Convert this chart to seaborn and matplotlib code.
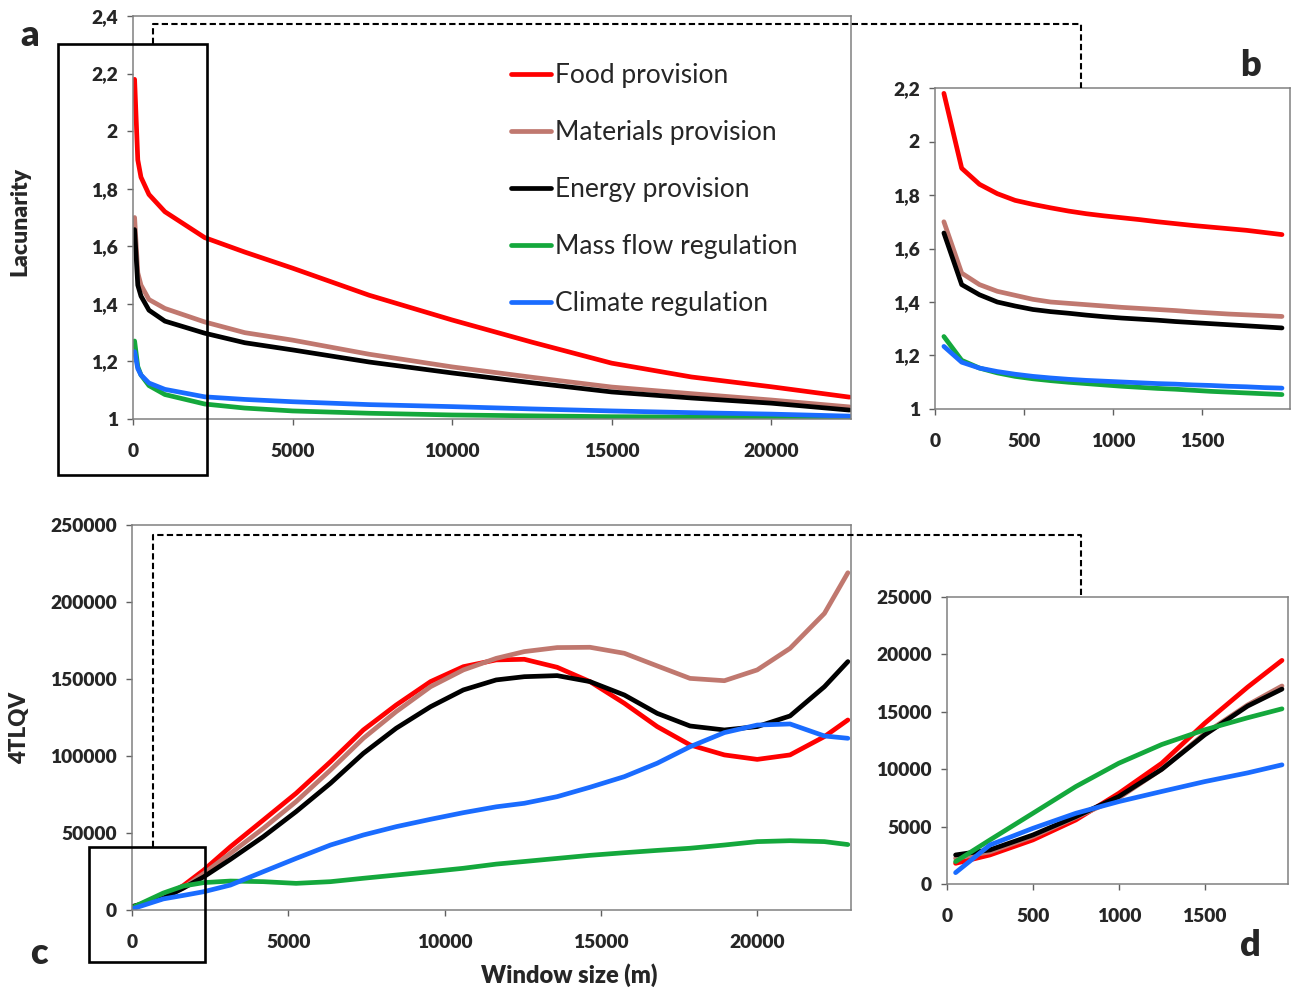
import matplotlib.pyplot as plt
import matplotlib.ticker as mticker
from matplotlib.lines import Line2D
from matplotlib.patches import Rectangle
import seaborn as sns

sns.set_theme(style="ticks")
plt.rcParams["font.family"] = ["Lato", "DejaVu Sans"]
# tick labels and titles are heavy in the original, the legend is not
plt.rcParams["font.weight"] = "heavy"

W, H = 1293, 990

SERIES = ["Food provision", "Materials provision", "Energy provision",
          "Mass flow regulation", "Climate regulation"]
COLORS = ["#ff0000", "#c0786f", "#000000", "#14a83c", "#1a6cff"]

# a - lacunarity, full range
window_a = [50, 150, 250, 500, 1000, 2250, 3500, 5000, 7400, 10000,
            12500, 15000, 17500, 20000, 22450]
lac_food_a = [2.18, 1.90, 1.84, 1.78, 1.72, 1.63, 1.58, 1.524, 1.43, 1.344,
              1.267, 1.194, 1.146, 1.112, 1.076]
lac_mat_a = [1.70, 1.508, 1.465, 1.415, 1.384, 1.337, 1.30, 1.274, 1.225,
             1.181, 1.145, 1.111, 1.088, 1.066, 1.042]
lac_energy_a = [1.658, 1.465, 1.427, 1.378, 1.34, 1.298, 1.265, 1.24, 1.198,
                1.16, 1.126, 1.094, 1.073, 1.055, 1.031]
lac_mass_a = [1.271, 1.182, 1.153, 1.116, 1.085, 1.052, 1.038, 1.028, 1.02,
              1.014, 1.011, 1.008, 1.007, 1.006, 1.005]
lac_climate_a = [1.234, 1.175, 1.153, 1.125, 1.103, 1.077, 1.068, 1.06, 1.05,
                 1.043, 1.035, 1.028, 1.022, 1.017, 1.01]

# b - lacunarity, first 2 km
window_b = [50, 150, 250, 350, 450, 550, 650, 750, 850, 950, 1050, 1150,
            1250, 1350, 1450, 1550, 1650, 1750, 1850, 1950]
lac_food_b = [2.18, 1.90, 1.84, 1.805, 1.78, 1.765, 1.752, 1.74, 1.73, 1.722,
              1.715, 1.708, 1.70, 1.693, 1.686, 1.68, 1.674, 1.668, 1.66, 1.652]
lac_mat_b = [1.70, 1.508, 1.465, 1.44, 1.425, 1.41, 1.40, 1.395, 1.39, 1.385,
             1.38, 1.376, 1.372, 1.368, 1.363, 1.359, 1.355, 1.352, 1.349, 1.346]
lac_energy_b = [1.658, 1.465, 1.427, 1.40, 1.385, 1.372, 1.364, 1.358, 1.351,
                1.345, 1.34, 1.336, 1.332, 1.327, 1.323, 1.319, 1.315, 1.311,
                1.307, 1.303]
lac_mass_b = [1.271, 1.182, 1.153, 1.135, 1.122, 1.113, 1.106, 1.10, 1.095,
              1.09, 1.085, 1.081, 1.077, 1.074, 1.07, 1.066, 1.063, 1.06,
              1.057, 1.054]
lac_climate_b = [1.234, 1.175, 1.153, 1.14, 1.13, 1.122, 1.116, 1.111, 1.107,
                 1.104, 1.101, 1.098, 1.095, 1.093, 1.09, 1.088, 1.085, 1.083,
                 1.08, 1.078]

# c - 4TLQV, full range
window_c = [50, 1000, 1650, 2300, 3150, 4200, 5250, 6350, 7400, 8450, 9550,
            10600, 11650, 12550, 13600, 14650, 15750, 16800, 17850, 18950,
            20000, 21050, 22150, 22900]
tlqv_food_c = [1800, 8000, 16000, 26000, 41100, 58400, 75800, 96300, 116900,
               133100, 148300, 158000, 162400, 162800, 157600, 148300, 134200,
               119100, 107200, 100700, 97800, 100700, 112600, 123400]
tlqv_mat_c = [2200, 8000, 14500, 23800, 36800, 53000, 70400, 90900, 111500,
              128800, 145000, 155900, 163400, 167800, 170400, 170600, 166700,
              158500, 150400, 148900, 155900, 169900, 192600, 219000]
tlqv_energy_c = [2500, 7600, 14300, 21600, 32900, 47600, 63900, 82300, 101700,
                 118000, 132000, 142900, 149400, 151500, 152200, 148300,
                 139600, 127700, 119500, 116900, 119100, 126000, 145000,
                 161300]
tlqv_mass_c = [2000, 11000, 15600, 17800, 18800, 18400, 17300, 18400, 20600,
               22700, 24900, 27100, 29800, 31500, 33500, 35500, 37200, 38700,
               40100, 42200, 44400, 45000, 44400, 42500]
tlqv_climate_c = [1000, 7200, 9500, 11900, 16200, 24900, 33500, 42200, 48700,
                  54100, 58900, 63200, 67000, 69300, 73600, 79700, 86600,
                  95300, 106000, 115200, 120100, 120800, 113000, 111500]

# d - 4TLQV, first 2 km
window_d = [50, 250, 500, 750, 1000, 1250, 1500, 1750, 1950]
tlqv_food_d = [1800, 2530, 3840, 5580, 7900, 10520, 14000, 17150, 19480]
tlqv_mat_d = [2240, 2800, 4130, 5800, 7500, 10000, 13100, 15600, 17250]
tlqv_energy_d = [2530, 2970, 4270, 5870, 7620, 9990, 12990, 15500, 16980]
tlqv_mass_d = [1950, 3840, 6160, 8490, 10520, 12150, 13430, 14480, 15260]
tlqv_climate_d = [990, 3400, 4850, 6160, 7180, 8060, 8920, 9680, 10380]


def comma_fmt(v, _pos):
    return f"{v:g}".replace(".", ",")


def plain_fmt(v, _pos):
    return f"{v:.0f}"


def px_rect(x0, y0, x1, y1):
    return [x0 / W, 1 - y1 / H, (x1 - x0) / W, (y1 - y0) / H]


def draw_panel(axis, x, ys, xlim, xticks, ylim, ystep, fmt):
    for y, name, color in zip(ys, SERIES, COLORS):
        sns.lineplot(x=x, y=y, ax=axis, color=color, lw=3.4, label=name,
                     legend=False, solid_capstyle="round")
    axis.set_xlim(*xlim)
    axis.set_ylim(*ylim)
    axis.set_xticks(xticks)
    axis.yaxis.set_major_locator(mticker.MultipleLocator(ystep))
    axis.yaxis.set_major_formatter(mticker.FuncFormatter(fmt))
    axis.xaxis.set_major_formatter(mticker.FuncFormatter(plain_fmt))
    for spine in axis.spines.values():
        spine.set_visible(True)
        spine.set_color("#808080")
        spine.set_linewidth(1.1)
    axis.tick_params(axis="both", direction="out", length=4, width=1,
                     color="#606060", labelsize=13.8)
    axis.tick_params(axis="x", pad=13)
    axis.tick_params(axis="y", pad=7)
    axis.set_xlabel("")
    axis.set_ylabel("")


fig = plt.figure(figsize=(W / 100, H / 100), dpi=100)
ax_a = fig.add_axes(px_rect(133, 16, 851, 419))
ax_b = fig.add_axes(px_rect(935, 88, 1290, 409))
ax_c = fig.add_axes(px_rect(132, 525, 851, 910))
ax_d = fig.add_axes(px_rect(947, 597, 1288, 884))

draw_panel(ax_a, window_a,
           [lac_food_a, lac_mat_a, lac_energy_a, lac_mass_a, lac_climate_a],
           (0, 22500), [0, 5000, 10000, 15000, 20000], (1, 2.4), 0.2, comma_fmt)
draw_panel(ax_b, window_b,
           [lac_food_b, lac_mat_b, lac_energy_b, lac_mass_b, lac_climate_b],
           (0, 1995), [0, 500, 1000, 1500], (1, 2.2), 0.2, comma_fmt)
draw_panel(ax_c, window_c,
           [tlqv_food_c, tlqv_mat_c, tlqv_energy_c, tlqv_mass_c, tlqv_climate_c],
           (0, 23000), [0, 5000, 10000, 15000, 20000], (0, 250000), 50000,
           plain_fmt)
draw_panel(ax_d, window_d,
           [tlqv_food_d, tlqv_mat_d, tlqv_energy_d, tlqv_mass_d, tlqv_climate_d],
           (0, 1985), [0, 500, 1000, 1500], (0, 25000), 5000, plain_fmt)

# legend inside panel a
ax_a.legend(loc="upper left", bbox_to_anchor=(0.5265, 0.883), frameon=False,
            prop={"size": 19, "weight": "normal"}, handlelength=1.52,
            handletextpad=0.15, labelspacing=1.215, borderpad=0,
            borderaxespad=0)

# axis titles and panel letters
fig.text(20 / W, 1 - 221 / H, "Lacunarity", rotation=90, ha="center",
         va="center", fontsize=16.5)
fig.text(20 / W, 1 - 728 / H, "4TLQV", rotation=90, ha="center",
         va="center", fontsize=16)
fig.text(569 / W, 1 - 975 / H, "Window size (m)", ha="center", va="center",
         fontsize=17)
for letter, (lx, ly) in zip("abcd", [(30, 36), (1250, 66), (39, 953), (1250, 945)]):
    fig.text(lx / W, 1 - ly / H, letter, ha="center", va="center",
             fontsize=26)

# zoom boxes and dashed connectors
for x0, y0, x1, y1 in [(58, 44, 207, 475), (89, 847, 205, 962)]:
    fig.add_artist(Rectangle((x0 / W, 1 - y1 / H), (x1 - x0) / W,
                             (y1 - y0) / H, transform=fig.transFigure,
                             fill=False, edgecolor="black", lw=1.9))
for y_start, y_top, y_end in [(44, 24, 88), (847, 535, 597)]:
    xs = [153, 153, 1081, 1081]
    ys = [y_start, y_top, y_top, y_end]
    fig.add_artist(Line2D([v / W for v in xs], [1 - v / H for v in ys],
                          transform=fig.transFigure, color="black", lw=1.5,
                          ls=(0, (3, 1.6))))

fig.savefig("out.png", dpi=100)
